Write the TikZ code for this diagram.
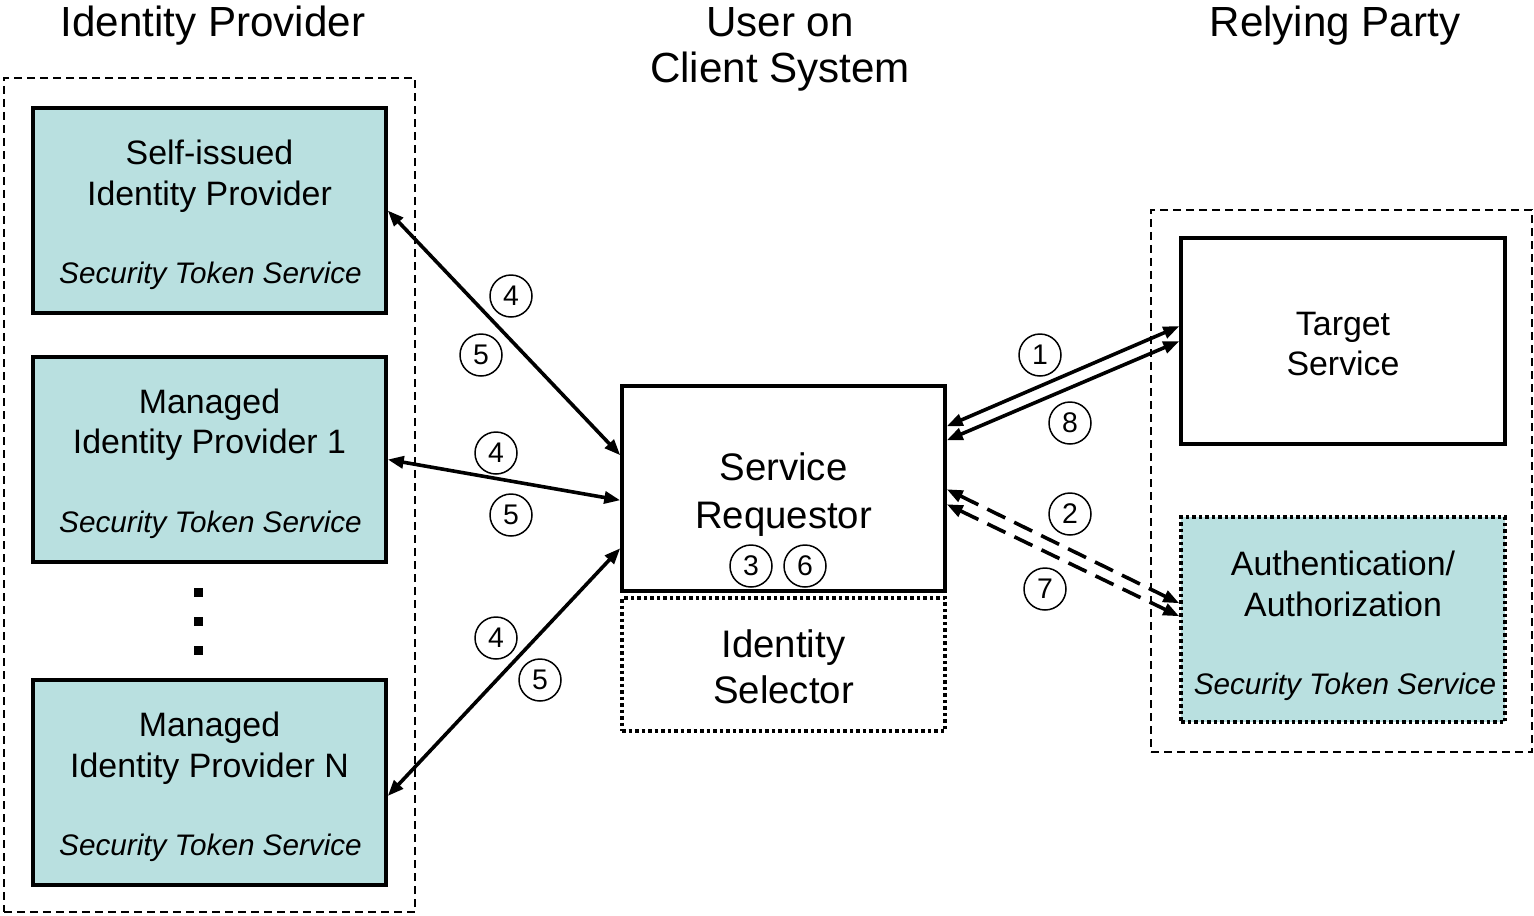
\documentclass[tikz,border=0pt]{standalone}
\usepackage{fontspec}
\setmainfont{Liberation Sans}
\usetikzlibrary{arrows.meta}
\definecolor{teal1}{HTML}{B9E0E0}
\tikzset{
  x=1bp, y=-1bp,
  ipbox/.style={draw, line width=3.5bp, fill=teal1, minimum width=353bp, minimum height=205bp, inner sep=0pt},
  plainbox/.style={draw, line width=3.5bp, fill=white, inner sep=0pt},
  dotbox/.style={draw, line width=3.5bp, dash pattern=on 3.5bp off 3bp, inner sep=0pt},
  group/.style={draw, line width=1.4bp, dash pattern=on 8bp off 5bp, inner sep=0pt},
  tmain/.style={anchor=base, font=\fontsize{34}{40}\selectfont, inner sep=0pt},
  tbig/.style={anchor=base, font=\fontsize{38.5}{46}\selectfont, inner sep=0pt},
  ttitle/.style={anchor=base, font=\fontsize{42.3}{46}\selectfont, inner sep=0pt},
  tital/.style={anchor=base, font=\fontsize{29.8}{34}\selectfont\itshape, inner sep=0pt},
  num/.style={draw, circle, line width=1.5bp, minimum size=42bp, inner sep=0pt, font=\fontsize{28.5}{30}\selectfont},
  conn/.style={line width=3.6bp, {Triangle[length=16bp,width=12bp]}-{Triangle[length=16bp,width=12bp]}},
  dconn/.style={conn, dash pattern=on 20bp off 10bp},
  dotsq/.style={fill=black, minimum size=9bp, inner sep=0pt}
}
\begin{document}
\begin{tikzpicture}
\useasboundingbox (0,0) rectangle (1534,915);
% groups
\node[group, minimum width=411bp, minimum height=834bp] (gl) at (209.5,495) {};
\node[group, minimum width=381bp, minimum height=542bp] (gr) at (1341.5,481) {};
% titles
\node[ttitle] (t1) at (213,36) {Identity Provider};
\node[ttitle] (t2a) at (780,36) {User on};
\node[ttitle] (t2b) at (780,82) {Client System};
\node[ttitle] (t3) at (1335,36) {Relying Party};
% identity providers
\node[ipbox] (si) at (209.5,210.5) {};
\node[tmain] at (209.5,164) {Self-issued};
\node[tmain] at (209.5,205) {Identity Provider};
\node[tital] at (210.5,283) {Security Token Service};
\node[ipbox] (m1) at (209.5,459.5) {};
\node[tmain] at (209.5,413) {Managed};
\node[tmain] at (209.5,453) {Identity Provider 1};
\node[tital] at (210.5,532) {Security Token Service};
\node[ipbox] (mn) at (209.5,782.5) {};
\node[tmain] at (209.5,736) {Managed};
\node[tmain] at (209.5,777) {Identity Provider N};
\node[tital] at (210.5,855) {Security Token Service};
% dots
\node[dotsq] (d1) at (198,592) {};
\node[dotsq] (d2) at (198,621) {};
\node[dotsq] (d3) at (198,650) {};
% client
\node[plainbox, minimum width=323bp, minimum height=205bp] (sr) at (783.5,488.5) {};
\node[tbig] at (783.5,480) {Service};
\node[tbig] at (783.5,528) {Requestor};
\node[dotbox, minimum width=323bp, minimum height=133bp] (is) at (783.5,664.5) {};
\node[tbig] at (783.5,657) {Identity};
\node[tbig] at (783.5,703) {Selector};
% relying party
\node[plainbox, minimum width=324bp, minimum height=206bp] (ts) at (1343,341) {};
\node[tmain] at (1343,335) {Target};
\node[tmain] at (1343,375) {Service};
\node[dotbox, fill=teal1, minimum width=324bp, minimum height=205bp] (aa) at (1343,619.5) {};
\node[tmain] at (1343,575) {Authentication/};
\node[tmain] at (1343,616) {Authorization};
\node[tital] at (1345,694) {Security Token Service};
% connectors
\draw[conn] (si.east) -- ([yshift=-71bp]sr.north west);
\draw[conn] (m1.east) -- ([yshift=-116bp]sr.north west);
\draw[conn] ([yshift=-13.5bp]mn.east) -- ([yshift=-164bp]sr.north west);
\draw[conn] ([yshift=-42bp]sr.north east) -- ([yshift=-90bp]ts.north west);
\draw[conn] ([yshift=-56bp]sr.north east) -- ([yshift=-105bp]ts.north west);
\draw[dconn] ([yshift=-105bp]sr.north east) -- ([yshift=-88bp]aa.north west);
\draw[dconn] ([yshift=-120bp]sr.north east) -- ([yshift=-101bp]aa.north west);
% step numbers
\node[num] (n4a) at (511,296) {4};
\node[num] (n5a) at (481,355) {5};
\node[num] (n4b) at (496,453) {4};
\node[num] (n5b) at (511,515) {5};
\node[num] (n4c) at (496,638) {4};
\node[num] (n5c) at (540,680) {5};
\node[num] (n1) at (1040,355) {1};
\node[num] (n8) at (1070,423) {8};
\node[num] (n2) at (1070,514) {2};
\node[num] (n7) at (1045,589) {7};
\node[num] (n3) at (751,566) {3};
\node[num] (n6) at (805,566) {6};
\end{tikzpicture}
\end{document}
